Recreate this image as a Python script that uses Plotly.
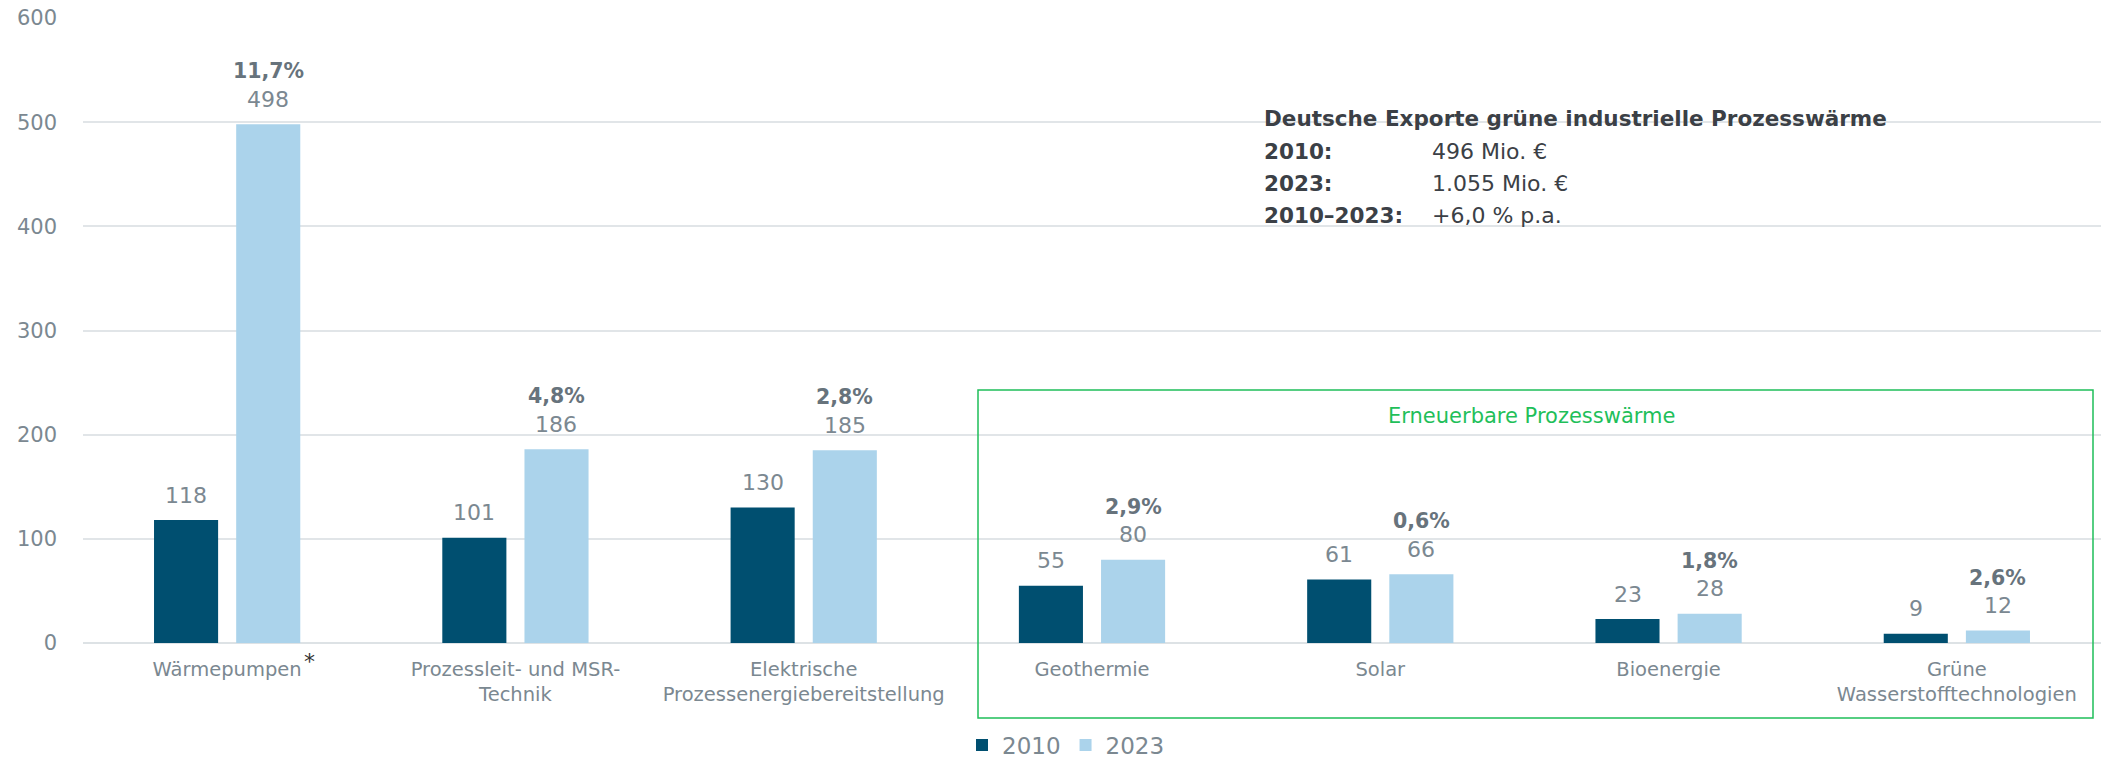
import plotly.graph_objects as go

categories = [
    "Wärmepumpen",
    "Prozessleit- und MSR-<br>Technik",
    "Elektrische<br>Prozessenergiebereitstellung",
    "Geothermie",
    "Solar",
    "Bioenergie",
    "Grüne<br>Wasserstofftechnologien",
]
values_2010 = [118, 101, 130, 55, 61, 23, 9]
values_2023 = [498, 186, 185, 80, 66, 28, 12]
growth = ["11,7%", "4,8%", "2,8%", "2,9%", "0,6%", "1,8%", "2,6%"]
y_ticks = [0, 100, 200, 300, 400, 500, 600]

W, H = 2101, 758
L, R, T, B = 83, 0, 18, 115
PW, PH = W - L - R, H - T - B

def px(x):
    return (x - L) / PW

def py(y):
    return (H - B - y) / PH

FONT = "DejaVu Sans"
DARK = "#004f70"
LIGHT = "#abd3eb"
GRAY = "#7b8891"
PCT = "#67737c"
TXT = "#3b4046"
GREEN = "#1fbf5a"

fig = go.Figure()
fig.add_trace(go.Bar(x=categories, y=values_2010, name="2010", marker=dict(color=DARK, line=dict(width=0))))
fig.add_trace(go.Bar(x=categories, y=values_2023, name="2023", marker=dict(color=LIGHT, line=dict(width=0))))

ann = []
for c, v in zip(categories, values_2010):
    ann.append(dict(x=c, y=v, xref="x", yref="y", text=str(v), showarrow=False,
                    xshift=-41, yshift=25, yanchor="middle",
                    font=dict(family=FONT, size=22, color=GRAY)))
for c, v, g in zip(categories, values_2023, growth):
    ann.append(dict(x=c, y=v, xref="x", yref="y", text=str(v), showarrow=False,
                    xshift=41, yshift=25, yanchor="middle",
                    font=dict(family=FONT, size=22, color=GRAY)))
    ann.append(dict(x=c, y=v, xref="x", yref="y", text="<b>" + g + "</b>", showarrow=False,
                    xshift=41, yshift=53, yanchor="middle",
                    font=dict(family=FONT, size=20.5, color=PCT)))

# asterisk next to Wärmepumpen
ann.append(dict(x=px(309), y=py(661), xref="paper", yref="paper", text="*", showarrow=False,
                xanchor="center", yanchor="middle", font=dict(family=FONT, size=22, color="#333")))

# summary text block
lines = [
    (118, "<b>Deutsche Exporte grüne industrielle Prozesswärme</b>", None),
    (151, "<b>2010:</b>", "496 Mio. €"),
    (184, "<b>2023:</b>", "1.055 Mio. €"),
    (216, "<b>2010–2023:</b>", "+6,0 % p.a."),
]
for yy, a, b in lines:
    ann.append(dict(x=px(1262), y=py(yy), xref="paper", yref="paper", text=a, showarrow=False,
                    xanchor="left", yanchor="middle", font=dict(family=FONT, size=21.5, color=TXT)))
    if b:
        ann.append(dict(x=px(1430), y=py(yy), xref="paper", yref="paper", text=b, showarrow=False,
                        xanchor="left", yanchor="middle", font=dict(family=FONT, size=22, color=TXT)))

ann.append(dict(x=px(1531), y=py(416), xref="paper", yref="paper", text="Erneuerbare Prozesswärme",
                showarrow=False, xanchor="center", yanchor="middle",
                font=dict(family=FONT, size=21, color=GREEN)))

fig.add_shape(type="rect", xref="paper", yref="paper", x0=px(978), x1=px(2093), y0=py(718), y1=py(390),
              line=dict(color=GREEN, width=1.5), fillcolor="rgba(0,0,0,0)", layer="above")

fig.update_layout(
    width=W, height=H,
    margin=dict(l=L, r=R, t=T, b=B, autoexpand=False),
    paper_bgcolor="white", plot_bgcolor="white",
    barmode="group", bargap=0.43, bargroupgap=0.22,
    font=dict(family=FONT, size=19.5, color=GRAY),
    annotations=ann,
    showlegend=True,
    legend=dict(orientation="h", x=px(1066), y=py(745), xanchor="center", yanchor="middle",
                font=dict(family=FONT, size=23, color=GRAY), itemwidth=30, traceorder="normal",
                bgcolor="rgba(0,0,0,0)"),
    xaxis=dict(showgrid=False, showline=False, ticks="", tickfont=dict(family=FONT, size=19.5, color=GRAY),
               ticklabelstandoff=12),
    yaxis=dict(range=[0, 600], tickvals=y_ticks, showgrid=True, gridcolor="#e1e5e8", gridwidth=1.5,
               zeroline=True, zerolinecolor="#dde2e5", zerolinewidth=2, showline=False, ticks="",
               tickfont=dict(family=FONT, size=21, color=GRAY), ticklabelstandoff=25),
)

fig.write_html("out.html", config={"displayModeBar": False},
               post_script="document.body.style.margin='0';document.body.style.overflow='hidden';")
